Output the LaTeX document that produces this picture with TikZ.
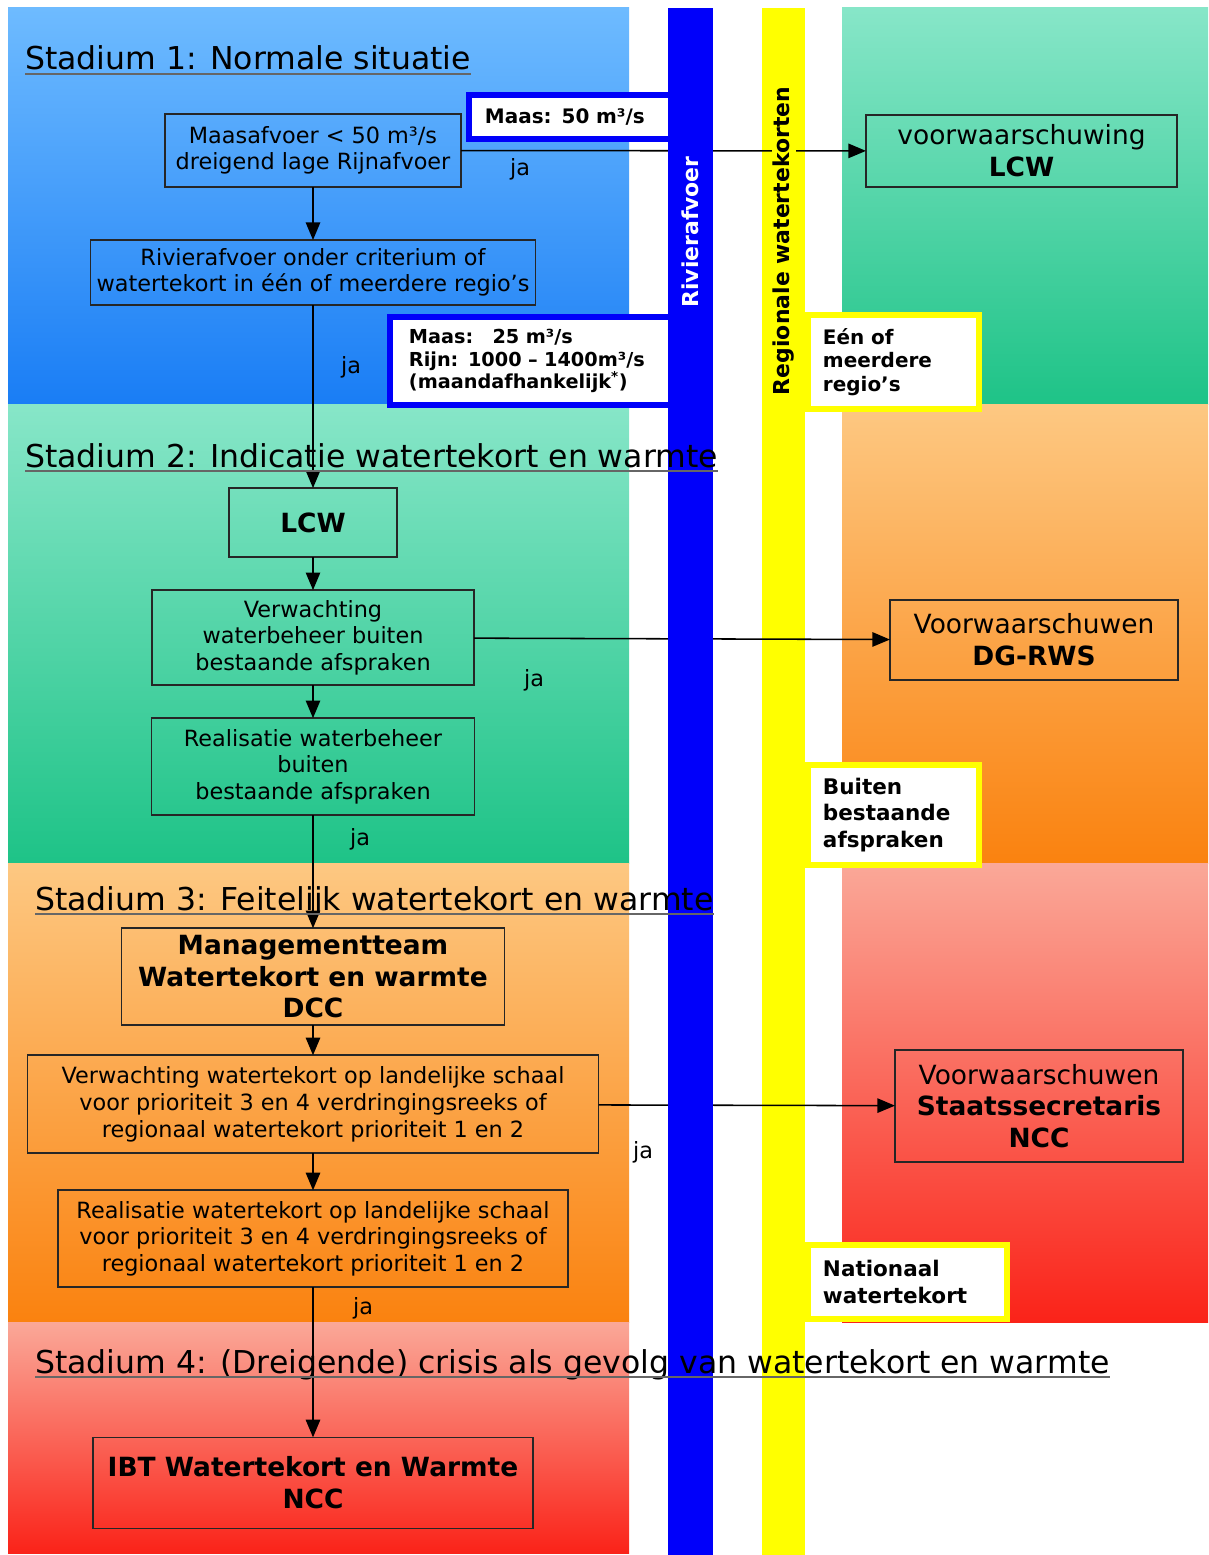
\documentclass[tikz,border=0pt]{standalone}
\usepackage{fontspec}
\setmainfont{DejaVu Sans}
\usetikzlibrary{arrows.meta,positioning,calc}
\definecolor{blauw1}{RGB}{110,187,255}
\definecolor{blauw2}{RGB}{25,125,245}
\definecolor{groen1}{RGB}{135,230,200}
\definecolor{groen2}{RGB}{30,195,135}
\definecolor{oranje1}{RGB}{253,200,130}
\definecolor{oranje2}{RGB}{250,130,15}
\definecolor{rood1}{RGB}{250,168,152}
\definecolor{rood2}{RGB}{250,35,25}
\definecolor{rivier}{RGB}{0,0,250}
\definecolor{regio}{RGB}{255,255,0}
\newcommand{\fsbody}{\fontsize{15.9}{18.9}\selectfont}
\newcommand{\fsgroot}{\fontsize{18.8}{22.6}\selectfont}
\newcommand{\fstitel}{\fontsize{22.4}{26}\selectfont}
\newcommand{\fslabel}{\fontsize{14.2}{16.2}\selectfont}
\newcommand{\fsregio}{\fontsize{14.2}{16.8}\selectfont}
\newcommand{\fsregiogr}{\fontsize{15.3}{19}\selectfont}
\newcommand{\fsbar}{\fontsize{15.6}{18}\selectfont}

\begin{document}
\begin{tikzpicture}[x=0.025cm,y=-0.025cm,
box/.style={draw=black!85,line width=1.2pt,outer sep=0pt,align=center,inner sep=2pt,font=\fsbody},
bbox/.style={box,font=\fsgroot\bfseries},
wbox/.style={box,font=\fsgroot},
lbl/.style={draw=rivier,line width=4.3pt,fill=white,align=left,font=\fslabel\bfseries},
ylbl/.style={draw=regio,line width=4.3pt,fill=white,align=left,inner xsep=0.375cm,text width=3.525cm,font=\fsregio\bfseries},
stage/.style={anchor=base west,font=\fstitel,inner sep=0pt},
uline/.style={black!60,line width=1.2pt},
ja/.style={font=\fsbody},
arr/.style={-{Triangle[length=4.4mm,width=3.6mm]},line width=1.1pt}
]
\useasboundingbox (0,0) rectangle (1208,1555);

% achtergrond per stadium
\foreach \ya/\yb/\c in {8/405/blauw,405/863/groen,863/1322/oranje,1322/1553/rood}
  \shade[top color=\c1,bottom color=\c2] (8,\ya) rectangle (629,\yb);
\foreach \ya/\yb/\c in {8/405/groen,405/863/oranje,863/1322/rood}
  \shade[top color=\c1,bottom color=\c2] (842,\ya) rectangle (1208,\yb);

% hoofdlijn
\node[box,minimum width=7.4cm,minimum height=1.825cm] (maas) at (313,150.5) {Maasafvoer < 50 m³/s\\dreigend lage Rijnafvoer};
\node[box,below=1.325cm of maas,minimum width=11.125cm,minimum height=1.625cm] (rivier) {Rivierafvoer onder criterium of\\watertekort in één of meerdere regio’s};
\node[bbox,below=4.575cm of rivier,minimum width=4.2cm,minimum height=1.725cm] (lcw) {LCW};
\node[box,below=0.825cm of lcw,minimum width=8.05cm,minimum height=2.375cm] (verw) {Verwachting\\waterbeheer buiten\\bestaande afspraken};
\node[box,below=0.825cm of verw,minimum width=8.075cm,minimum height=2.425cm] (real) {Realisatie waterbeheer\\buiten\\bestaande afspraken};
\node[bbox,below=2.825cm of real,minimum width=9.575cm,minimum height=2.425cm] (mt) {Managementteam\\Watertekort en warmte\\DCC};
\node[box,below=0.75cm of mt,minimum width=14.275cm,minimum height=2.45cm] (verw2) {Verwachting watertekort op landelijke schaal\\voor prioriteit 3 en 4 verdringingsreeks of\\regionaal watertekort prioriteit 1 en 2};
\node[box,below=0.925cm of verw2,minimum width=12.75cm,minimum height=2.425cm] (real2) {Realisatie watertekort op landelijke schaal\\voor prioriteit 3 en 4 verdringingsreeks of\\regionaal watertekort prioriteit 1 en 2};
\node[bbox,below=3.75cm of real2,minimum width=11cm,minimum height=2.275cm] (ibt) {IBT Watertekort en Warmte\\NCC};

% waarschuwingen rechts
\node[wbox,minimum width=7.775cm,minimum height=1.8cm] (vlcw) at (1021.5,151) {voorwaarschuwing\\\textbf{LCW}};
\node[wbox,minimum width=7.2cm,minimum height=2cm] (vdg) at (1034,640) {Voorwaarschuwen\\\textbf{DG-RWS}};
\node[wbox,minimum width=7.2cm,minimum height=2.8cm] (vss) at (1039,1106) {Voorwaarschuwen\\\textbf{Staatssecretaris}\\\textbf{NCC}};

\fill[regio] (762,8) rectangle (805,1555);

\foreach \a/\b in {maas/rivier,rivier/lcw,lcw/verw,verw/real,real/mt,mt/verw2,verw2/real2,real2/ibt}
  \draw[arr] (\a) -- (\b);
\draw[arr] (maas) -- (vlcw);
\draw[arr] (verw) -- (vdg);
\draw[arr] (verw2) -- (vss);

\node[ja] (ja1) at (520,169) {ja};
\node[ja] (ja2) at (351,367) {ja};
\node[ja] (ja3) at (534,680) {ja};
\node[ja] (ja4) at (360,839) {ja};
\node[ja] (ja5) at (643,1152) {ja};
\node[ja] (ja6) at (363,1308) {ja};

% criteria
\node[lbl,inner xsep=0.4cm,text width=4.25cm,minimum height=1.1cm] (m50) at (570,117) {Maas: 50 m³/s};
\node[lbl,font=\fontsize{13.7}{16}\selectfont\bfseries,inner xsep=0.475cm,text width=6.075cm,minimum height=2.2cm] (m25) at (530.5,361) {Maas:\ \ \ 25 m³/s\\Rijn: 1000 – 1400m³/s\\(maandafhankelijk\textsuperscript{*})};
\node[ylbl,minimum height=2.35cm] (regios) at (893.5,362) {Eén of\\meerdere\\regio’s};
\node[ylbl,font=\fsregiogr\bfseries,minimum height=2.5cm] (buiten) at (893.5,815) {Buiten\\bestaande\\afspraken};
\node[ylbl,font=\fsregiogr\bfseries,text width=4.225cm,minimum height=1.85cm] (nat) at (907.5,1282) {Nationaal\\watertekort};

\fill[rivier] (668,8) rectangle (713,1555);
\node[rotate=90,font=\fsbar\bfseries,text=white] (rivtxt) at (690.5,232) {Rivierafvoer};
\node[rotate=90,font=\fsbar\bfseries,fill=regio,inner sep=1pt] (regtxt) at (784,241) {Regionale watertekorten};

% stadia
\node[stage] (st1) at (25,70) {Stadium 1: Normale situatie};
\node[stage] (st2) at (25,467) {Stadium 2: Indicatie watertekort en warmte};
\node[stage] (st3) at (35,910) {Stadium 3: Feitelijk watertekort en warmte};
\node[stage] (st4) at (35,1373) {Stadium 4: (Dreigende) crisis als gevolg van watertekort en warmte};
\foreach \s in {st1,st2,st3,st4}
  \draw[uline] ($(\s.base west)+(0,4)$) -- ($(\s.base east)+(0,4)$);
\end{tikzpicture}
\end{document}
